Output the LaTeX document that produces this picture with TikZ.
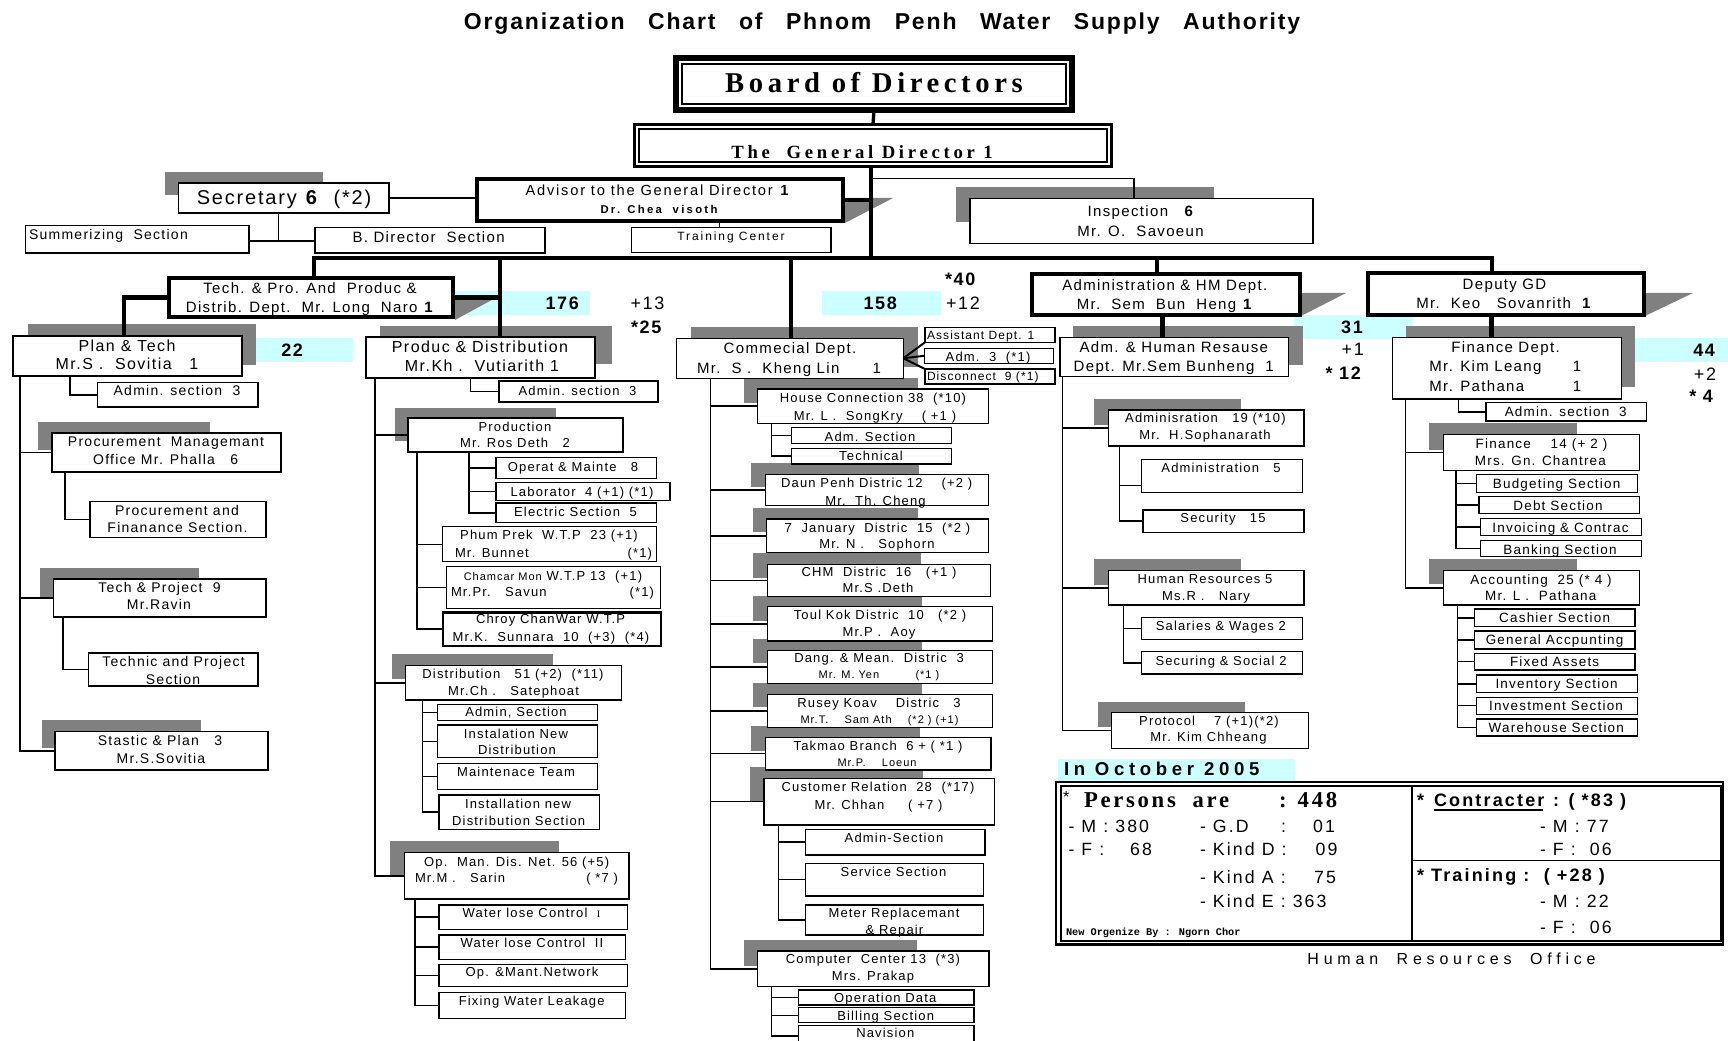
\documentclass[tikz,border=0pt]{standalone}
\usepackage{fontspec}
\setmainfont{Liberation Sans}[LetterSpace=9]
\newfontfamily\titlef{Liberation Sans}[LetterSpace=8,WordSpace=2.85]
\newfontfamily\widef{Liberation Sans}[LetterSpace=16]
\newfontfamily\advf{Liberation Sans}[LetterSpace=12]
\newfontfamily\widerf{Liberation Sans}[LetterSpace=20]
\newfontfamily\sumf{Liberation Sans}[LetterSpace=12]
\newfontfamily\hrof{Liberation Sans}[LetterSpace=30]
\newfontfamily\octf{Liberation Sans}[LetterSpace=25]
\newfontfamily\serbf{Liberation Serif}[LetterSpace=12]
\newfontfamily\serbbf{Liberation Serif}[LetterSpace=16]
\newfontfamily\sergdf{Liberation Serif}[LetterSpace=20]
\newfontfamily\monof{Liberation Mono}
\definecolor{grayshd}{RGB}{128,128,128}
\definecolor{cy}{RGB}{204,255,255}
\newcounter{tn}
\newcommand\T[4][]{\stepcounter{tn}\edef\Tnode{\noexpand\node[tx,\unexpanded{#1}] (tx\arabic{tn}) at (#2,#3)}\Tnode{#4};}
\newcommand\bx[6][]{\node[box,#1,minimum width={(#5-#3)*0.75pt},minimum height={(#6-#4)*0.75pt}] (#2) at ({(#3+#5)/2},{(#4+#6)/2}) {};}
\newcommand\sh[4]{\fill[gshade] (#1,#2) rectangle (#3,#4);}
\newcommand\cyr[4]{\fill[cy] (#1,#2) rectangle (#3,#4);}
\tikzset{
 box/.style={draw,fill=white,line width=1pt,inner sep=0pt,outer sep=0pt},
 tbox/.style={box,line width=3pt},
 ln/.style={line width=1pt},
 md/.style={line width=1.5pt},
 tk/.style={line width=3.5pt},
 gshade/.style={fill=grayshd},
 tx/.style={inner sep=0pt,outer sep=0pt,text depth=0pt,anchor=center},
 s11/.style={font=\fontsize{8.25pt}{9pt}\selectfont,text height=5.9pt},
 s12/.style={font=\fontsize{9pt}{10pt}\selectfont,text height=6.44pt},
 s13/.style={font=\fontsize{9.75pt}{11pt}\selectfont,text height=6.98pt},
 s135/.style={font=\fontsize{10.1pt}{11pt}\selectfont,text height=7.25pt},
 s14/.style={font=\fontsize{10.5pt}{12pt}\selectfont,text height=7.52pt},
 s15/.style={font=\fontsize{11.25pt}{13pt}\selectfont,text height=8.05pt},
 s16/.style={font=\fontsize{12pt}{14pt}\selectfont,text height=8.6pt},
 s18/.style={font=\fontsize{13.5pt}{15pt}\selectfont,text height=9.67pt},
 s20/.style={font=\fontsize{15pt}{17pt}\selectfont,text height=10.74pt},
 sm/.style={font=\sumf\fontsize{13.3pt}{15pt}\selectfont,text height=9.5pt,anchor=west},
 smb/.style={font=\sumf\bfseries\fontsize{13.5pt}{15pt}\selectfont,text height=9.7pt,anchor=west},
}
\begin{document}
\begin{tikzpicture}[x=0.75pt,y=-0.75pt]
\useasboundingbox (0,0) rectangle (1728,1041);
\fill[white] (0,0) rectangle (1728,1041);

% ---------- cyan count tags ----------
\cyr{455}{291}{590}{315}
\cyr{822}{291}{941}{315}
\cyr{256}{338}{353}{362}
\cyr{1294}{315}{1413}{339}
\cyr{1634.6}{337.7}{1728}{361.7}
\cyr{1057.6}{759}{1294.5}{780.7}

% ---------- shadows ----------
\sh{165}{172}{322.5}{195}
\sh{956}{187.3}{1214}{221.7}
\fill[gshade] (845,198) -- (893,198) -- (845,223) -- cycle;
\fill[gshade] (455,296) -- (499,296) -- (455,320) -- cycle;
\fill[gshade] (1301,293) -- (1346,293) -- (1301,316) -- cycle;
\fill[gshade] (1645,293) -- (1693,293) -- (1645,316) -- cycle;
\sh{27.5}{324}{256}{365}
\sh{38}{422}{210}{450}
\sh{40}{568}{199}{597}
\sh{42}{720}{201}{748}
\sh{380}{326}{612}{364}
\sh{394.5}{408}{556}{441}
\sh{391.7}{654}{553.3}{679.3}
\sh{390}{841}{559}{875}
\sh{691}{327}{918}{367}
\sh{744}{378.3}{917.7}{403.3}
\sh{751}{463.3}{919}{486.7}
\sh{753}{507.7}{918}{532.3}
\sh{753}{553}{921}{577.7}
\sh{753}{595.7}{921.7}{621}
\sh{753}{639.3}{921.7}{663.3}
\sh{753}{683.3}{921.7}{707.3}
\sh{751}{726}{920}{750.7}
\sh{750}{767.3}{923.3}{801.7}
\sh{744}{940}{916.7}{966}
\sh{1073.4}{326}{1302.7}{365}
\sh{1094.2}{399.3}{1240.5}{425}
\sh{1094.2}{559.3}{1240.5}{585}
\sh{1098.4}{701.7}{1245}{726.7}
\sh{1406.2}{326}{1634.6}{387.3}
\sh{1429.4}{422.7}{1576.6}{450}
\sh{1429.4}{559}{1576.6}{584.3}

% ---------- boxes ----------
\bx[line width=4.5pt]{board}{676}{58}{1072}{110}
\bx[line width=2.2pt]{gd}{634.5}{124.5}{1111.5}{166.5}
\bx[tbox]{adv}{477}{179}{843}{221}
\bx{sec}{178.6}{183}{389}{213}
\bx{sum}{25.7}{225.7}{249}{253}
\bx{bdir}{315}{227.7}{545}{253}
\bx{trn}{631.5}{227.7}{831}{252.7}
\bx{insp}{970}{198.3}{1313}{243.3}

\bx[tbox]{tp}{169}{278}{453}{316.7}
\bx{pt}{13}{336}{242}{376}
\bx{ptad}{97.5}{382.7}{258}{407}
\bx{proc}{52}{433}{281}{472}
\bx{pfin}{90}{501.7}{266}{537.7}
\bx{tpj}{53.6}{579}{266}{617}
\bx{tps}{88.6}{653}{258}{686}
\bx{stat}{55}{731.7}{268}{770}

\bx{pd}{366}{337}{595}{378}
\bx{pdad}{499}{381}{658}{402}
\bx{prod}{408}{418}{623}{452}
\bx{opm8}{496}{457.7}{656.7}{478.3}
\bx{lab}{496}{482.7}{670}{500.7}
\bx{elec}{496}{503}{656.7}{522.7}
\bx{pp}{442.7}{526.7}{656.7}{561.7}
\bx{cm}{446.7}{566.7}{660.7}{608.3}
\bx[line width=1.8pt]{cc}{443}{612.3}{660.7}{646}
\bx{dist}{405.7}{665.7}{621.7}{700}
\bx{dad}{437.3}{704.3}{597.7}{720.3}
\bx{din}{437.3}{725}{597.7}{757.7}
\bx{dmt}{437.3}{763.3}{597.7}{789.3}
\bx{dis}{439}{795}{599.7}{829.3}
\bx{opm}{404.3}{852.7}{629}{899}
\bx{wl1}{439}{905}{627.3}{929.3}
\bx{wl2}{439}{935}{625.7}{959.3}
\bx{omn}{439}{964.3}{627.3}{986.7}
\bx{fwl}{439}{992.7}{625.7}{1018.3}

\bx{com}{676.7}{338.3}{903.3}{378.3}
\bx{asst}{925}{327.3}{1055}{342.3}
\bx{adm3}{924.3}{348.3}{1053.3}{363.3}
\bx{disc}{925}{369}{1055}{384}
\bx{hc}{757.7}{389}{988.3}{423.3}
\bx{hcad}{791.7}{427.7}{951.7}{443.3}
\bx{hct}{791.7}{448.3}{951.7}{464}
\bx{dp}{765.7}{474.3}{988.3}{505.7}
\bx{jan}{766.7}{519}{988.3}{552.7}
\bx{chm}{767.3}{564.3}{990.7}{596.7}
\bx{toul}{767.3}{606.7}{992.7}{641}
\bx{dm}{767.3}{650.7}{992.7}{683.3}
\bx{rk}{767.3}{694.3}{992.7}{727.7}
\bx{tm}{765.7}{737.3}{991}{770}
\bx{cr}{764}{778.3}{994.3}{825}
\bx{cras}{805.7}{829.3}{985}{855}
\bx{crss}{805.7}{863.3}{983.3}{896}
\bx{crmr}{805.7}{905}{983.3}{935}
\bx{cpc}{757.7}{951}{989}{986.7}
\bx{opd}{798.3}{990}{974}{1005}
\bx{bil}{798.3}{1007.7}{974}{1022.7}
\bx{nav}{798.3}{1025.7}{974}{1046}

\bx[tbox]{ahm}{1032}{274.5}{1300}{315}
\bx{ahr}{1060}{337.3}{1288.8}{376.7}
\bx{adms}{1108.2}{410}{1304}{446}
\bx{adm5}{1141.6}{459.3}{1302.7}{492.7}
\bx{sec15}{1143}{510}{1304}{532.3}
\bx{hr}{1108.2}{570.7}{1304}{605}
\bx{sal}{1141.6}{617.3}{1302.7}{639.3}
\bx{soc}{1141.6}{651.7}{1302.7}{674}
\bx{prot}{1111.5}{712.7}{1308.5}{748.3}

\bx[tbox]{dep}{1367.8}{273.5}{1644.2}{315}
\bx{fin}{1392.3}{337.3}{1621.2}{399}
\bx{finad}{1486}{402.7}{1646.7}{421}
\bx{fn14}{1443.4}{434.3}{1639.7}{470.7}
\bx{bud}{1476.8}{474.3}{1637.4}{492.7}
\bx{debt}{1479}{496.7}{1639.3}{513.3}
\bx{inv}{1480.5}{518.7}{1641.6}{535.3}
\bx{bank}{1480.5}{540.7}{1641.6}{556.7}
\bx{acc}{1443.4}{570.7}{1639.7}{605}
\bx{cash}{1474.5}{609}{1635}{626.7}
\bx{gacc}{1474.5}{631}{1635}{649}
\bx{fix}{1474.5}{653.3}{1635}{670}
\bx{invt}{1476.8}{675}{1637.4}{692.7}
\bx{invs}{1476.8}{697.3}{1637.4}{714.3}
\bx{ware}{1476.8}{719}{1637.4}{736}

\bx[line width=2pt,fill=none]{sumo}{1056}{782}{1723}{944.5}
\bx[line width=1.5pt,fill=none]{sumi}{1060.7}{786}{1720.5}{940.5}

% inner frames of the two top boxes
\draw[line width=0.8pt] ([shift={(6,6)}]board.north west) rectangle ([shift={(-6,-6)}]board.south east);
\draw[line width=0.8pt] ([shift={(4.5,4.5)}]gd.north west) rectangle ([shift={(-4.5,-4.5)}]gd.south east);

% ---------- coordinates ----------
\coordinate (b0) at (871,258);
\coordinate (b1) at (314,258);
\coordinate (b2) at (500,258);
\coordinate (b3) at (791,258);
\coordinate (b4) at (1157,258);
\coordinate (b5) at (1492,258);
\coordinate (gdi) at (871,178.5);
\coordinate (inspx) at (1134,0);
\coordinate (secd) at (278.6,241);
\coordinate (trnx) at (719.5,0);
\coordinate (x124) at (124,0);
\coordinate (x20) at (20,0);
\coordinate (x70) at (70,0);
\coordinate (x65) at (65,0);
\coordinate (x63) at (63,0);
\coordinate (x375) at (375,0);
\coordinate (x471) at (470.7,0);
\coordinate (x417) at (417,0);
\coordinate (x469) at (469,0);
\coordinate (x423) at (422.7,0);
\coordinate (x415) at (415,0);
\coordinate (x711) at (710.7,0);
\coordinate (x772) at (771.7,0);
\coordinate (x778) at (778.3,0);
\coordinate (x1162) at (1162.5,0);
\coordinate (x1063) at (1062.7,0);
\coordinate (x1120) at (1119.8,0);
\coordinate (x1124) at (1123.5,0);
\coordinate (x1491) at (1491.2,0);
\coordinate (x1405) at (1405.3,0);
\coordinate (x1459) at (1458.7,0);
\coordinate (x1456) at (1455.9,0);
\coordinate (x1457) at (1457.3,0);
\coordinate (xdiv) at (1412,0);
\coordinate (ydiv) at (0,860.7);

% ---------- connectors ----------
\draw[line width=2.5pt] (board.south) -- (gd.north);
\draw[tk] (gd.south -| b0) -- (b0);
\draw[tk] (adv.east) -- (adv.east -| b0);
\draw[ln] (gdi) -| (insp.north -| inspx);
\draw[ln] (sec.east) -- (sec.east -| adv.west);
\draw[ln] (sec.south -| secd) -- (secd);
\draw[ln] (sum.east |- secd) -- (bdir.west |- secd);
\draw[ln] (adv.south -| trnx) -- (trn.north -| trnx);
\draw[tk] (tp.north -| b1) -- (b1) -- (b5) -- (b5 |- dep.north);
\draw[tk] (b2) -- (b2 |- pd.north);
\draw[tk] (b3) -- (b3 |- com.north);
\draw[tk] (b4) -- (b4 |- ahm.north);
\draw[tk] (tp.east) -- (tp.east -| b2);
\draw[tk] (tp.west) -| (pt.north -| x124);
\draw[tk] (ahm.south -| x1162) -- (ahr.north -| x1162);
\draw[tk] (dep.south -| x1491) -- (fin.north -| x1491);

\draw[ln] (pt.south -| x70) |- (ptad.west);
\foreach \c in {proc,tpj,stat} \draw[ln] (pt.south -| x20) |- (\c.west);
\draw[ln] (proc.south -| x65) |- (pfin.west);
\draw[ln] (tpj.south -| x63) |- (tps.west);

\draw[ln] (pd.south -| x471) |- (pdad.west);
\foreach \c in {prod,dist,opm} \draw[ln] (pd.south -| x375) |- (\c.west);
\foreach \c in {opm8,lab,elec} \draw[ln] (prod.south -| x469) |- (\c.west);
\foreach \c in {pp,cm,cc} \draw[ln] (prod.south -| x417) |- (\c.west);
\foreach \c in {dad,din,dmt,dis} \draw[ln] (dist.south -| x423) |- (\c.west);
\foreach \c in {wl1,wl2,omn,fwl} \draw[ln] (opm.south -| x415) |- (\c.west);

\draw[md] (com.east) -- (asst.south west);
\draw[md] (com.east) -- (adm3.west);
\draw[md] (com.east) -- (disc.north west);
\foreach \c in {hc,dp,jan,chm,toul,dm,rk,tm,cr,cpc} \draw[ln] (com.south -| x711) |- (\c.west);
\foreach \c in {hcad,hct} \draw[ln] (hc.south -| x772) |- (\c.west);
\foreach \c in {cras,crss,crmr} \draw[ln] (cr.south -| x778) |- (\c.west);
\foreach \c in {opd,bil,nav} \draw[ln] (cpc.south -| x772) |- (\c.west);

\foreach \c in {adms,hr,prot} \draw[ln] (ahr.south -| x1063) |- (\c.west);
\draw[ln] (adms.south -| x1120) |- ([yshift=-7.3pt]adm5.west);
\draw[ln] (adms.south -| x1120) |- (sec15.west);
\foreach \c in {sal,soc} \draw[ln] (hr.south -| x1124) |- (\c.west);

\draw[ln] (fin.south -| x1459) |- (finad.west);
\foreach \c in {fn14,acc} \draw[ln] (fin.south -| x1405) |- (\c.west);
\foreach \c in {bud,debt,inv,bank} \draw[ln] (fn14.south -| x1456) |- (\c.west);
\foreach \c in {cash,gacc,fix,invt,invs,ware} \draw[ln] (acc.south -| x1457) |- (\c.west);

\draw[ln] (sumi.north -| xdiv) -- (sumi.south -| xdiv);
\draw[ln] (xdiv |- ydiv) -- (sumi.east |- ydiv);

% ---------- texts ----------
\T[font={\titlef\bfseries\fontsize{17.25pt}{19pt}\selectfont},text height=12.35pt]{882}{21.7}{Organization Chart of Phnom Penh Water Supply Authority}
\T[font={\serbbf\bfseries\fontsize{21.5pt}{23pt}\selectfont},text height=14.2pt]{874}{83}{Board of Directors}
\T[font={\sergdf\bfseries\fontsize{14pt}{15pt}\selectfont},text height=9.3pt]{862}{152}{The\ \ General Director 1}
\T[font={\advf\fontsize{11pt}{12pt}\selectfont},text height=7.8pt]{658}{190}{Advisor to the General Director \textbf{1}}
\T[font={\widerf\bfseries\fontsize{8.5pt}{9pt}\selectfont},text height=6.1pt]{659}{209}{Dr. Chea\ \ visoth}
\T[font={\widef\fontsize{9pt}{10pt}\selectfont},text height=6.4pt]{731}{236.5}{Training Center}
\T[s20]{284}{197}{Secretary \textbf{6}\ \ (*2)}
\T[s14,anchor=west]{29}{234.7}{Summerizing\ \ Section}
\T[s15]{428.6}{237.5}{B. Director\ \ Section}
\T[s15]{1141}{210.7}{Inspection\ \ \ \textbf{6}}
\T[s15]{1140.5}{231}{Mr. O.\ \ Savoeun}

\T[s15]{310}{288}{Tech. \& Pro. And\ \ Produc \&}
\T[s15]{310}{307}{Distrib. Dept.\ \ Mr. Long\ \ Naro \textbf{1}}
\T[s18]{563}{303}{\textbf{176}}
\T[s18]{647.5}{303}{+13}
\T[s18]{647}{326.7}{\textbf{*25}}
\T[s18]{881}{303}{\textbf{158}}
\T[s18]{963}{303}{+12}
\T[s18]{961}{279.3}{\textbf{*40}}

\T[s16]{127}{346}{Plan \& Tech}
\T[s16]{127}{364}{Mr.S .\ \ Sovitia\ \ \ 1}
\T[s18]{293}{350}{\textbf{22}}
\T[s14]{177}{390.7}{Admin. section\ \ 3}
\T[s14]{166}{441.7}{Procurement\ \ Managemant}
\T[s14]{165.7}{459}{Office Mr. Phalla\ \ \ 6}
\T[s14]{177}{510.7}{Procurement and}
\T[s14]{177.5}{527.7}{Finanance Section.}
\T[s14]{159.5}{587}{Tech \& Project\ \ 9}
\T[s14]{159}{604}{Mr.Ravin}
\T[s14]{173.6}{661}{Technic and Project}
\T[s14]{173}{679}{Section}
\T[s14]{160}{740.7}{Stastic \& Plan\ \ \ 3}
\T[s14]{161}{758}{Mr.S.Sovitia}

\T[s16]{480}{346.7}{Produc \& Distribution}
\T[s16]{482}{365.7}{Mr.Kh .\ \ Vutiarith 1}
\T[s13]{577.5}{390.7}{Admin. section\ \ 3}
\T[s13]{515}{426.7}{Production}
\T[s13]{515}{443.3}{Mr. Ros Deth\ \ \ 2}
\T[s13]{573}{466.7}{Operat \& Mainte\ \ \ 8}
\T[s13]{582}{491.7}{Laborator\ \ 4 (+1) (*1)}
\T[s13]{575.5}{511.7}{Electric Section\ \ 5}
\T[s13]{549}{535}{Phum Prek\ \ W.T.P\ \ 23 (+1)}
\T[s13,anchor=west]{455}{552.7}{Mr. Bunnet}
\T[s13,anchor=east]{652}{552.7}{(*1)}
\T[s13]{553}{576}{{\fontsize{8.25pt}{9pt}\selectfont Chamcar Mon} W.T.P 13\ \ (+1)}
\T[s13,anchor=west]{451}{592}{Mr.Pr.\ \ \ Savun}
\T[s13,anchor=east]{654}{592}{(*1)}
\T[s13]{550.5}{619.3}{Chroy ChanWar W.T.P}
\T[s13]{551}{636.7}{Mr.K.\ \ Sunnara\ \ 10\ \ (+3)\ \ (*4)}
\T[s13]{513}{674.3}{Distribution\ \ \ 51 (+2)\ \ (*11)}
\T[s13]{513.6}{691}{Mr.Ch .\ \ \ Satephoat}
\T[s13]{516}{712.3}{Admin, Section}
\T[s13]{516}{733.7}{Instalation New}
\T[s13]{517}{750.3}{Distribution}
\T[s13]{516}{771.7}{Maintenace Team}
\T[s13]{518}{803.7}{Installation new}
\T[s13]{518.7}{820.7}{Distribution Section}
\T[s13]{516.7}{861.7}{Op.\ \ Man. Dis. Net. 56 (+5)}
\T[s13,anchor=west]{415}{878.3}{Mr.M .\ \ \ Sarin}
\T[s13,anchor=east]{618}{878.3}{( *7 )}
\T[s13]{531.5}{913.3}{Water lose Control\ \ {\serbf\fontsize{7.5pt}{8pt}\selectfont I}}
\T[s13]{532}{943.3}{Water lose Control\ \ II}
\T[s13]{532}{972.3}{Op. \&Mant.Network}
\T[s13]{531.7}{1000.7}{Fixing Water Leakage}

\T[s15]{790}{348.3}{Commecial Dept.}
\T[s15]{789}{367.7}{Mr.\ \ S .\ \ Kheng Lin\ \ \ \ \ \ 1}
\T[s12,anchor=west]{927}{335}{Assistant Dept. 1}
\T[s13]{988}{356.7}{Adm.\ \ 3\ \ (*1)}
\T[s12,anchor=west]{927}{376.5}{Disconnect\ \ 9 (*1)}
\T[s13]{873}{397.7}{House Connection 38\ \ (*10)}
\T[s13]{875}{416}{Mr. L .\ \ SongKry\ \ \ \ ( +1 )}
\T[s13]{870}{436.7}{Adm. Section}
\T[s13]{871}{456}{Technical}
\T[s13]{876.7}{483.3}{Daun Penh Distric 12\ \ \ \ (+2 )}
\T[s13]{875.5}{501}{Mr.\ \ Th. Cheng}
\T[s13]{877.5}{527.7}{7\ \ January\ \ Distric\ \ 15\ \ (*2 )}
\T[s13]{877}{544.3}{Mr. N .\ \ \ Sophorn}
\T[s13]{879}{572.3}{CHM\ \ Distric\ \ 16\ \ \ (+1 )}
\T[s13]{878}{588.3}{Mr.S .Deth}
\T[s13]{880}{615}{Toul Kok Distric\ \ 10\ \ \ (*2 )}
\T[s13]{879}{632.3}{Mr.P .\ \ Aoy}
\T[s13]{879}{658.3}{Dang. \& Mean.\ \ Distric\ \ 3}
\T[s11]{879}{675}{Mr. M. Yen\ \ \ \ \ \ \ \ \ (*1 )}
\T[s13]{879}{702.7}{Rusey Koav\ \ \ \ Distric\ \ \ 3}
\T[s11]{879.5}{719.3}{Mr.T.\ \ \ \ Sam Ath\ \ \ \ (*2 ) (+1)}
\T[s13]{878}{745.7}{Takmao Branch\ \ 6 + ( *1 )}
\T[s11]{877}{762.3}{Mr.P.\ \ \ \ Loeun}
\T[s13]{878}{786.7}{Customer Relation\ \ 28\ \ (*17)}
\T[s13]{878.5}{805}{Mr. Chhan\ \ \ \ \ ( +7 )}
\T[s13]{894}{837.7}{Admin-Section}
\T[s13]{893.5}{871.7}{Service Section}
\T[s13]{894}{913.3}{Meter Replacemant}
\T[s13]{894.5}{930}{\& Repair}
\T[s13]{873}{959.3}{Computer\ \ Center 13\ \ (*3)}
\T[s13]{873}{976}{Mrs. Prakap}
\T[s13]{885.3}{998.3}{Operation Data}
\T[s13]{885.7}{1016.3}{Billing Section}
\T[s13]{885.3}{1033.3}{Navision}

\T[s15]{1164.8}{285}{Administration \& HM Dept.}
\T[s15]{1164.8}{304.3}{Mr.\ \ Sem\ \ Bun\ \ Heng \textbf{1}}
\T[s18]{1352.8}{326.7}{\textbf{31}}
\T[s18]{1352.8}{349.3}{+1}
\T[s18]{1344}{372.7}{\textbf{* 12}}
\T[s15]{1173.8}{347.3}{Adm. \& Human Resause}
\T[s15]{1173.7}{366}{Dept. Mr.Sem Bunheng\ \ 1}
\T[s13]{1205.4}{418.3}{Adminisration\ \ \ 19 (*10)}
\T[s13]{1205}{435}{Mr.\ \ H.Sophanarath}
\T[s13]{1221}{467.7}{Administration\ \ \ 5}
\T[s13]{1223}{518.3}{Security\ \ \ 15}
\T[s13]{1205}{579.3}{Human Resources 5}
\T[s13]{1206}{596}{Ms.R .\ \ \ Nary}
\T[s13]{1220.8}{625.7}{Salaries \& Wages 2}
\T[s13]{1221}{660.7}{Securing \& Social 2}
\T[s13]{1209}{721}{Protocol\ \ \ \ 7 (+1)(*2)}
\T[s13]{1208.5}{736.7}{Mr. Kim Chheang}

\T[s15]{1504.5}{284}{Deputy GD}
\T[s15]{1504}{303.3}{Mr.\ \ Keo\ \ \ Sovanrith\ \ \textbf{1}}
\T[s15]{1505.6}{347.3}{Finance Dept.}
\T[s15,anchor=west]{1429.4}{366}{Mr. Kim Leang}
\T[s15]{1577}{366}{1}
\T[s15,anchor=west]{1429.4}{386}{Mr. Pathana}
\T[s15]{1577}{386}{1}
\T[s18]{1705}{350}{\textbf{44}}
\T[s18]{1705}{374}{+2}
\T[s18]{1702}{396}{\textbf{* 4}}
\T[s135]{1565.7}{411.7}{Admin. section\ \ 3}
\T[s135]{1541.5}{443.3}{Finance\ \ \ \ 14 (+ 2 )}
\T[s135]{1540.4}{460.7}{Mrs. Gn. Chantrea}
\T[s135]{1556.6}{483.3}{Budgeting Section}
\T[s135]{1558}{505.7}{Debt Section}
\T[s135]{1560.5}{527.3}{Invoicing \& Contrac}
\T[s135]{1560}{549.3}{Banking Section}
\T[s135]{1541}{579.3}{Accounting\ \ 25 (* 4 )}
\T[s135]{1540.8}{596}{Mr. L .\ \ Pathana}
\T[s135]{1554.6}{617.7}{Cashier Section}
\T[s135]{1554.6}{639.3}{General Accpunting}
\T[s135]{1554.6}{661.7}{Fixed Assets}
\T[s135]{1556.6}{683.7}{Inventory Section}
\T[s135]{1556}{705.7}{Investment Section}
\T[s135]{1556.3}{727.7}{Warehouse Section}

% ---------- summary ----------
\T[font={\octf\bfseries\fontsize{13.95pt}{15pt}\selectfont},text height=10pt,anchor=west]{1064}{769.3}{In October 2005}
\T[s16,anchor=west]{1063}{797}{*}
\T[font={\serbf\bfseries\fontsize{17pt}{19pt}\selectfont},text height=11.25pt,anchor=west]{1084}{800}{Persons\ \ are}
\T[font={\serbf\bfseries\fontsize{17pt}{19pt}\selectfont},text height=11.25pt,anchor=west]{1279}{800}{: 448}
\T[sm]{1068.5}{826}{- M : 380}
\T[sm]{1068.5}{848.7}{- F :}
\T[sm]{1130}{848.7}{68}
\T[sm]{1200}{826}{- G.D}
\T[sm]{1281}{826}{:}
\T[sm]{1313}{826}{01}
\T[sm]{1200}{848.7}{- Kind D :}
\T[sm]{1315.6}{848.7}{09}
\T[sm]{1200}{876.7}{- Kind A :}
\T[sm]{1314}{876.7}{75}
\T[sm]{1200}{901}{- Kind E : 363}
\T[font={\monof\bfseries\fontsize{7.7pt}{8pt}\selectfont},text height=5.3pt,anchor=west]{1066}{932.3}{New Orgenize By : Ngorn Chor}
\T[smb]{1417}{800}{*}
\node[tx,smb] (contr) at (1434,800) {Contracter};
\draw[line width=1.8pt] ([yshift=-2.6pt]contr.south west) -- ([yshift=-2.6pt,xshift=-1pt]contr.south east);
\T[smb]{1553}{800}{: ( *83 )}
\T[sm]{1540}{826}{- M : 77}
\T[sm]{1540}{848.7}{- F :\ \ 06}
\T[smb]{1417}{875}{* Training :\ \ ( +28 )}
\T[sm]{1540}{901}{- M : 22}
\T[sm]{1540}{927.3}{- F :\ \ 06}
\T[font={\hrof\fontsize{12pt}{14pt}\selectfont},text height=8.6pt]{1451.5}{958.3}{Human\ \ Resources\ \ Office}
\end{tikzpicture}
\end{document}
